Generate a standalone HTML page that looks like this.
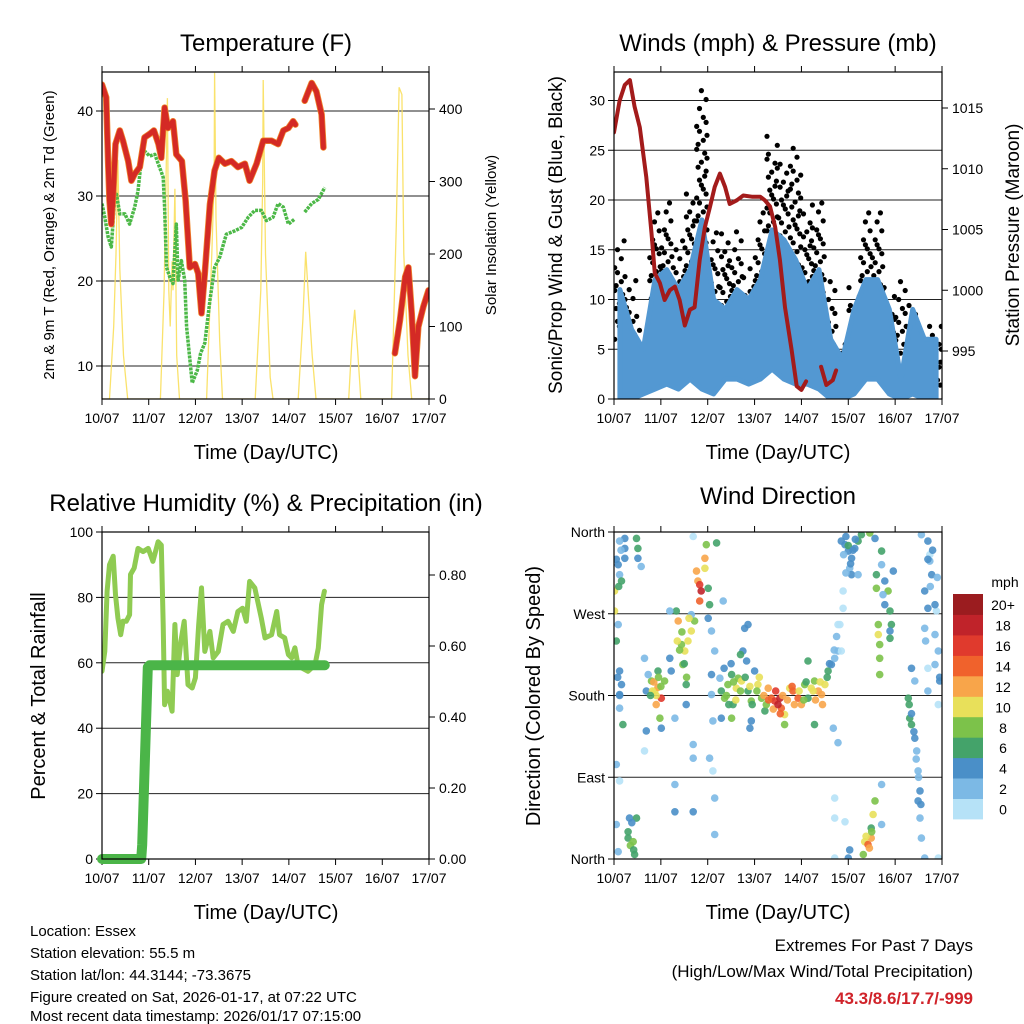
<!DOCTYPE html>
<html><head><meta charset="utf-8"><title>Station Meteogram</title>
<style>
html,body{margin:0;padding:0;background:#fff;}
svg{display:block;font-family:"Liberation Sans",Arial,sans-serif;}
</style></head>
<body>
<svg id="chart" width="1024" height="1024" viewBox="0 0 1024 1024" xmlns="http://www.w3.org/2000/svg">
<rect x="0" y="0" width="1024" height="1024" fill="#fff"/>
<defs>
<clipPath id="c1"><rect x="102" y="72" width="327" height="327"/></clipPath>
<clipPath id="c2"><rect x="614" y="72" width="328" height="327"/></clipPath>
<clipPath id="c3"><rect x="102" y="532" width="327" height="327"/></clipPath>
<clipPath id="c4"><rect x="614" y="532" width="328" height="327"/></clipPath>
</defs>
<text x="266" y="51" font-size="24" text-anchor="middle">Temperature (F)</text>
<text x="778" y="51" font-size="24" text-anchor="middle">Winds (mph) &amp; Pressure (mb)</text>
<text x="266" y="511" font-size="24" text-anchor="middle">Relative Humidity (%) &amp; Precipitation (in)</text>
<text x="778" y="504" font-size="24" text-anchor="middle">Wind Direction</text>
<text x="266" y="459" font-size="20" text-anchor="middle">Time (Day/UTC)</text>
<text x="778" y="459" font-size="20" text-anchor="middle">Time (Day/UTC)</text>
<text x="266" y="919" font-size="20" text-anchor="middle">Time (Day/UTC)</text>
<text x="778" y="919" font-size="20" text-anchor="middle">Time (Day/UTC)</text>
<text transform="translate(54,235) rotate(-90)" font-size="15" text-anchor="middle">2m &amp; 9m T (Red, Orange) &amp; 2m Td (Green)</text>
<text transform="translate(496,235) rotate(-90)" font-size="15" text-anchor="middle">Solar Insolation (Yellow)</text>
<text transform="translate(562,235) rotate(-90)" font-size="19" text-anchor="middle">Sonic/Prop Wind &amp; Gust (Blue, Black)</text>
<text transform="translate(1019,235) rotate(-90)" font-size="19" text-anchor="middle">Station Pressure (Maroon)</text>
<text transform="translate(45,696) rotate(-90)" font-size="20" text-anchor="middle">Percent &amp; Total Rainfall</text>
<text transform="translate(540,696) rotate(-90)" font-size="20" text-anchor="middle">Direction (Colored By Speed)</text>
<g font-size="15">
<text x="30" y="936">Location: Essex</text>
<text x="30" y="958">Station elevation: 55.5 m</text>
<text x="30" y="980">Station lat/lon: 44.3144; -73.3675</text>
<text x="30" y="1002">Figure created on Sat, 2026-01-17, at 07:22 UTC</text>
<text x="30" y="1024" dy="-3">Most recent data timestamp: 2026/01/17 07:15:00</text>
</g>
<text x="973" y="951" font-size="17" text-anchor="end">Extremes For Past 7 Days</text>
<text x="973" y="977" font-size="17" text-anchor="end">(High/Low/Max Wind/Total Precipitation)</text>
<text x="973" y="1004" font-size="17" font-weight="bold" fill="#d0232a" text-anchor="end">43.3/8.6/17.7/-999</text>
</svg>
<script>
// ---------- DATA ----------
const dayLabels = ["10/07","11/07","12/07","13/07","14/07","15/07","16/07","17/07"];
const tempTicks = [10,20,30,40];
const solarTicks = [0,100,200,300,400];
const windTicks = [0,5,10,15,20,25,30];
const presTicks = [995,1000,1005,1010,1015];
const rhTicks = [0,20,40,60,80,100];
const precipTicks = ["0.00","0.20","0.40","0.60","0.80"];
const dirLabels = ["North","East","South","West","North"];
const speedLabels = ["0","2","4","6","8","10","12","14","16","18","20+"];
const speedColors = ["#b6e2f7","#7cb9e5","#4a8fc8","#44a36a","#7cc24a","#e8e05a","#f8a54a","#f0622c","#e03a2d","#c0232a","#9b1c1f"];

const tempTime = [0,0.09,0.13,0.16,0.2,0.24,0.29,0.38,0.45,0.56,0.63,0.7,0.81,0.91,1.02,1.11,1.21,1.27,1.34,1.41,1.52,1.59,1.71,1.79,1.88,1.99,2.06,2.13,2.2,2.31,2.41,2.5,2.63,2.77,2.91,3.06,3.16,3.31,3.45,3.63,3.77,3.88,3.99,4.09,4.14,4.2,4.34,4.49,4.59,4.7,4.74,4.78,6.2,6.27,6.38,6.49,6.56,6.63,6.7,6.77,6.88,6.99];
const tempVal = [43.1,41.6,34.1,29.5,26.7,30.2,36.1,37.7,36.5,34.1,31.8,32.6,33.4,36.9,37.3,37.7,36.1,34.5,40.4,38,38.8,34.9,34.1,29.5,21.6,22,20.9,16.2,20.9,29,33,34.5,33.8,34.1,33.4,33.8,31.8,33.8,36.5,36.5,36.1,37.7,38,38.8,38.4,null,41.2,43.3,42.3,39.6,35.7,null,null,11.5,15.4,20.5,21.6,16.2,8.8,14.6,17,18.9];
const dewTime = [0,0.06,0.13,0.2,0.27,0.31,0.38,0.49,0.59,0.7,0.77,0.84,0.91,1.02,1.13,1.23,1.31,1.34,1.38,1.45,1.52,1.59,1.63,1.7,1.77,1.81,1.93,2.04,2.11,2.2,2.31,2.41,2.52,2.66,2.84,2.99,3.13,3.27,3.41,3.52,3.66,3.77,3.88,3.99,4.13,4.2,4.34,4.49,4.63,4.77];
const dewVal = [29.1,27.5,25.2,24,29.5,30.2,27.9,27.9,26.7,28.7,30.6,34.1,35.3,34.7,34.9,33.4,32.2,28.7,21.6,20.5,19.7,26.7,20.1,22.4,20.1,14.6,8,9.5,11.5,12.7,17.7,21.6,22.8,25.5,25.9,26.3,27.5,28.3,28.3,27.1,27.5,29.1,28.7,26.7,27.3,null,28.1,29.1,29.6,31];
const solarTime = [0,0.16,0.25,0.3,0.34,0.38,0.46,0.55,1.25,1.33,1.36,1.4,1.43,1.46,1.5,1.52,1.56,1.6,1.66,2.24,2.35,2.4,2.41,2.44,2.52,2.58,3.28,3.4,3.44,3.45,3.5,3.6,3.66,4.2,4.3,4.36,4.42,4.5,4.58,5.28,5.35,5.41,5.47,5.54,6.2,6.3,6.36,6.42,6.46,6.55,6.63,7];
const solarVal = [0,0,100,200,330,180,60,0,0,150,260,415,150,100,190,150,290,60,0,0,200,300,450,250,80,0,0,150,300,440,200,30,0,0,110,203,140,60,0,0,80,123,70,0,0,240,430,420,200,60,0,0];

const presTime = [0,0.12,0.23,0.34,0.44,0.55,0.69,0.8,0.87,0.98,1.08,1.19,1.3,1.4,1.51,1.62,1.72,1.83,1.94,2.05,2.15,2.26,2.37,2.47,2.62,2.76,2.94,3.12,3.22,3.33,3.44,3.54,3.65,3.79,3.9,4.0,4.1,4.31,4.42,4.53,4.67,4.74];
const presVal = [1013,1015.6,1016.9,1017.3,1015.1,1013.4,1009.3,1004.7,1001.4,1000.6,999.2,1000,1000.3,999.2,997.1,998.4,998.6,1002.5,1005.2,1006.9,1008.5,1009.6,1008.5,1007.1,1007.4,1007.8,1007.7,1007.7,1007.4,1006.9,1005.2,1002.5,998.6,995.1,992.1,991.8,992.5,null,993.7,992.2,992.6,993.4];
const windLow = [0,0,0.5,1,1.5,1,2,1,0.5,2,2,1.5,2,3,2,1.5,1.5,1,0,0,0.5,2,2,0.5,0,0.5,0,0];
const windHigh = [11,7,5,12,13,11,13,18,10,9,11,10,12,17,16,14,11,13,6,4,9,12,12,9,2,9,6,6];
const gustMax = [16,12,8,19,20,16,21,31,17,17,17,14,19,27,24,26,20,20,12,6,12,19,19,12,12,10,8,8];

const dirTime = [0.01,0.01,0.09,0.12,0.16,0.23,0.23,0.23,0.12,0.09,0.05,0.12,0.16,0.12,0.12,0.19,0.05,0.12,0.05,0.33,0.30,0.41,0.44,0.48,0.09,
0.48,0.51,0.51,0.58,
0.87,0.94,1.01,0.80,1.08,0.94,0.73,0.65,0.69,0.98,1.01,0.69,0.65,1.19,1.22,
1.37,1.33,1.44,1.47,1.51,1.58,1.65,1.72,1.54,1.54,1.30,1.30,1.30,1.69,1.69,1.69,1.19,1.65,
1.79,1.83,1.86,1.83,1.76,1.94,1.97,1.94,2.01,2.04,2.01,1.69,2.08,2.15,2.08,2.08,2.11,2.04,2.11,2.15,2.15,2.19,2.33,
2.26,2.29,2.36,2.43,2.51,2.54,2.61,2.65,2.72,2.75,2.83,2.86,2.93,2.93,3.00,3.07,3.15,3.22,3.29,3.36,3.43,3.54,3.57,3.64,3.64,3.75,3.82,3.93,4.00,4.07,4.14,4.14,4.21,4.28,4.36,4.43,4.50,4.57,4.64,4.71,4.78,4.78,2.86,2.79,4.28,2.90,2.29,2.51,
4.93,5.00,5.07,5.14,5.21,5.28,5.03,5.07,5.21,4.89,4.89,4.82,4.85,4.71,4.71,4.93,4.71,5.03,5.00,4.68,4.78,5.46,
5.35,5.42,5.49,5.53,5.57,5.32,5.49,5.71,5.71,
5.60,5.60,5.64,5.67,5.64,5.67,5.67,5.78,5.85,5.89,5.92,5.96,5.74,5.78,5.89,5.89,5.57,5.71,5.71,
6.28,6.31,6.35,6.42,6.46,6.49,6.53,6.49,6.53,6.56,6.63,6.35,6.42,6.56,6.70,6.74,6.78,6.63,6.70,6.63,6.85,6.92,6.85,6.95,6.70,6.88,6.92,6.92,6.74,
2.40,2.45,2.55,2.60,2.70,2.80,2.90,2.95,3.05,3.10,3.20,3.25,3.30,3.40,3.45,3.50,3.55,3.60,3.70,3.80,3.85,3.95,4.05,4.10,4.25,4.30,4.40,4.45,4.55,4.60,4.70,4.75,2.35,2.50,2.70,
0.82,0.85,0.90,0.95,0.90,1.00,0.78,
1.35,1.40,1.45,1.50,1.55,1.60,
4.85,4.90,4.95,5.00,5.05,5.10,5.15,4.95,
0.30,0.35,0.38,0.42,5.38,5.45,5.50,
6.70,6.75,6.80,6.85,6.90,6.95,6.65,6.70,6.30,6.35,6.40,6.45,6.50,6.55,
0.05,0.10,0.15,0.08,0.12];
const dirDeg = [295,273,324,313,306,353,342,331,350,258,240,207,192,181,166,148,104,86,38,45,23,19,5,45,8,
353,342,331,322,
185,189,177,196,196,207,203,221,185,155,144,141,119,221,207,
262,273,236,214,229,240,251,262,192,170,155,82,52,126,111,52,273,269,
306,302,295,284,317,331,346,320,298,280,265,355,251,229,203,181,152,111,97,67,27,348,284,
199,185,177,192,203,170,188,199,196,229,218,185,174,152,207,192,177,163,188,177,174,177,166,159,148,188,185,177,170,192,177,218,188,196,185,181,192,207,214,221,229,258,258,254,148,144,155,155,
346,339,331,342,350,357,320,313,313,295,276,258,229,67,45,41,1,10,1,144,128,359,
19,16,23,49,64,5,34,82,38,
313,298,247,236,258,221,203,306,295,273,258,317,291,280,251,243,353,339,324,
177,155,148,133,119,97,75,64,45,23,1,210,196,357,350,328,313,295,276,254,247,229,214,196,185,273,170,1,335,
180,170,195,175,185,200,190,170,185,200,180,170,175,165,185,170,160,180,175,190,170,185,175,195,185,175,195,170,200,215,230,245,210,215,225,
185,195,180,200,170,190,180,
240,230,250,215,200,265,
350,335,355,345,325,340,352,315,
30,15,40,10,25,12,30,
330,300,340,280,310,200,240,210,170,160,140,110,90,60,
330,300,340,200,180];
const dirSpd = [10,10,4,2,6,4,4,4,2,2,6,4,4,4,2,6,2,0,2,4,6,8,6,6,2,
6,6,4,2,
10,12,16,8,8,6,2,2,4,8,4,4,0,4,4,
12,6,8,8,10,10,10,8,6,4,2,2,4,2,2,4,2,2,
12,16,18,14,12,12,8,10,6,6,4,0,2,2,4,2,2,2,0,2,2,6,2,
2,6,8,8,6,6,10,8,10,4,4,6,8,4,4,10,8,6,12,14,16,18,14,10,8,10,14,14,12,8,6,6,10,8,12,12,10,6,4,2,2,0,4,4,6,4,4,8,
4,4,4,4,6,6,2,4,2,0,0,0,0,0,0,0,0,4,4,2,2,8,
10,14,12,10,8,8,6,2,2,
6,8,10,8,8,8,8,4,8,6,6,4,2,4,4,6,4,6,2,
6,6,6,4,2,2,4,4,2,2,2,4,2,2,4,2,4,4,4,2,2,2,2,4,2,0,0,0,0,
8,6,8,10,8,6,10,6,8,10,12,8,14,12,16,18,14,12,12,14,12,10,8,6,10,12,10,12,6,4,2,2,4,4,6,
10,12,10,8,12,8,6,
10,8,8,6,8,10,
4,2,4,6,4,4,4,2,
6,8,4,6,10,12,8,
4,2,4,4,2,4,2,0,6,4,4,2,2,4,
4,6,2,4,4];

// ---------- HELPERS ----------
const NS = "http://www.w3.org/2000/svg";
const svg = document.getElementById("chart");
function mk(tag, attrs, name, parent) {
  const e = document.createElementNS(NS, tag);
  for (const k in attrs) e.setAttribute(k, attrs[k]);
  
  
  (parent || svg).appendChild(e);
  return e;
}
function txt(x, y, s, size, anchor, name, parent) {
  const e = mk("text", {x: x, y: y, "font-size": size, "text-anchor": anchor}, name, parent);
  e.textContent = s;
  return e;
}
const P = {
  p1: {x0: 102, x1: 429, y0: 72, y1: 399},
  p2: {x0: 614, x1: 942, y0: 72, y1: 399},
  p3: {x0: 102, x1: 429, y0: 532, y1: 859},
  p4: {x0: 614, x1: 942, y0: 532, y1: 859}
};
function xs(p, t) { return p.x0 + t / 7 * (p.x1 - p.x0); }
const yTemp = v => 366 - (v - 10) * 8.5;
const ySolar = v => 399 - v * 0.725;
const yWind = v => 399 - v * 9.95;
const yPres = v => 351 - (v - 995) * 12.15;
const yRH = v => 859 - v * 3.27;
const yPrecip = v => 859 - v * 355;
const yDir = v => 859 - v / 360 * 327;

function paths(p, ts, vs, fy) {
  const segs = []; let cur = [];
  for (let i = 0; i < ts.length; i++) {
    if (vs[i] === null) { if (cur.length) segs.push(cur); cur = []; continue; }
    cur.push(xs(p, ts[i]).toFixed(1) + "," + fy(vs[i]).toFixed(1));
  }
  if (cur.length) segs.push(cur);
  return segs.map(s => "M" + s.join("L")).join(" ");
}

function frame(p, name) {
  const g = mk("g", {}, name + "-axes");
  for (let d = 0; d < dayLabels.length; d++) {
    const x = xs(p, d);
    mk("line", {x1: x, x2: x, y1: p.y1, y2: p.y1 + 6, stroke: "#000", "stroke-width": 1}, "x-tick", g);
    mk("line", {x1: x, x2: x, y1: p.y0, y2: p.y0 - 6, stroke: "#000", "stroke-width": 1}, "x-tick-top", g);
    txt(x, p.y1 + 24, dayLabels[d], 14, "middle", "x-tick-label", g);
  }
  return g;
}
function border(p, name) {
  mk("rect", {x: p.x0, y: p.y0, width: p.x1 - p.x0, height: p.y1 - p.y0, fill: "none", stroke: "#000", "stroke-width": 1.2}, name + "-frame");
}
function hgrid(p, ys, g) {
  ys.forEach(y => mk("line", {x1: p.x0, x2: p.x1, y1: y, y2: y, stroke: "#222", "stroke-width": 1}, "grid-line", g));
}

// ---------- PANEL 1: TEMPERATURE ----------
(function () {
  const p = P.p1; const g = frame(p, "temperature");
  hgrid(p, tempTicks.map(yTemp), g);
  tempTicks.forEach(v => {
    mk("line", {x1: p.x0 - 6, x2: p.x0, y1: yTemp(v), y2: yTemp(v), stroke: "#000"}, "y-tick", g);
    txt(p.x0 - 9, yTemp(v) + 5, String(v), 14, "end", "temp-tick-label", g);
  });
  solarTicks.forEach(v => {
    mk("line", {x1: p.x1, x2: p.x1 + 6, y1: ySolar(v), y2: ySolar(v), stroke: "#000"}, "y2-tick", g);
    txt(p.x1 + 10, ySolar(v) + 5, String(v), 14, "start", "solar-tick-label", g);
  });
  const c = mk("g", {"clip-path": "url(#c1)"}, "temperature-plot-area");
  mk("path", {d: paths(p, solarTime, solarVal, ySolar), fill: "none", stroke: "#f9df5c", "stroke-width": 1.3, opacity: 0.9}, "solar-line", c);
  mk("path", {d: paths(p, dewTime, dewVal, yTemp), fill: "none", stroke: "#4cb847", "stroke-width": 3.5, "stroke-dasharray": "3 1", "stroke-linejoin": "round"}, "dewpoint-line", c);
  mk("path", {d: paths(p, tempTime, tempVal, yTemp), fill: "none", stroke: "#f0862c", "stroke-width": 6.5, "stroke-linejoin": "round", "stroke-linecap": "round"}, "temp-9m-line", c);
  mk("path", {d: paths(p, tempTime, tempVal, yTemp), fill: "none", stroke: "#d42a25", "stroke-width": 5, "stroke-linejoin": "round", "stroke-linecap": "round"}, "temp-2m-line", c);
  border(p, "temperature");
})();

// ---------- PANEL 2: WINDS ----------
(function () {
  const p = P.p2; const g = frame(p, "winds");
  hgrid(p, windTicks.slice(1).map(yWind), g);
  windTicks.forEach(v => {
    mk("line", {x1: p.x0 - 6, x2: p.x0, y1: yWind(v), y2: yWind(v), stroke: "#000"}, "y-tick", g);
    txt(p.x0 - 9, yWind(v) + 5, String(v), 14, "end", "wind-tick-label", g);
  });
  presTicks.forEach(v => {
    mk("line", {x1: p.x1, x2: p.x1 + 6, y1: yPres(v), y2: yPres(v), stroke: "#000"}, "y2-tick", g);
    txt(p.x1 + 10, yPres(v) + 5, String(v), 14, "start", "pressure-tick-label", g);
  });
  const c = mk("g", {"clip-path": "url(#c2)"}, "winds-plot-area");
  const bw = 0.25;
  const pattern = [-0.11, 0.03, -0.05, 0.09, -0.01, 0.06, -0.08, 0.11];
  for (let i = 0; i < gustMax.length; i++) {
    const tc = i * bw + bw / 2;
    let row = 0;
    for (let v = Math.max(windLow[i] + 1, windHigh[i] - 5); v <= gustMax[i]; v += 0.9) {
      const o1 = pattern[row % pattern.length];
      const o2 = pattern[(row + 3) % pattern.length];
      mk("circle", {cx: xs(p, tc + o1).toFixed(1), cy: yWind(v).toFixed(1), r: 2.6, fill: "#000"}, "gust-point", c);
      if (v < gustMax[i] - 3) {
        mk("circle", {cx: xs(p, tc + o2).toFixed(1), cy: yWind(v + 0.4).toFixed(1), r: 2.6, fill: "#000"}, "gust-point", c);
      }
      row++;
    }
  }
  const top = [], bot = [];
  for (let i = 0; i < windHigh.length; i++) {
    const tc = i * bw + bw / 2;
    top.push(xs(p, tc).toFixed(1) + "," + yWind(windHigh[i]).toFixed(1));
    bot.unshift(xs(p, tc).toFixed(1) + "," + yWind(windLow[i]).toFixed(1));
  }
  mk("polygon", {points: top.concat(bot).join(" "), fill: "#5398d2", stroke: "#5398d2", "stroke-width": 5, "stroke-linejoin": "round"}, "wind-speed-band", c);
  mk("path", {d: paths(p, presTime, presVal, yPres), fill: "none", stroke: "#a31b1b", "stroke-width": 4, "stroke-linejoin": "round", "stroke-linecap": "round"}, "pressure-line", c);
  border(p, "winds");
})();

// ---------- PANEL 3: HUMIDITY ----------
const rhTime = [0,0.06,0.11,0.16,0.24,0.29,0.34,0.4,0.45,0.52,0.59,0.61,0.69,0.77,0.88,0.99,1.09,1.2,1.27,1.31,1.34,1.4,1.5,1.56,1.61,1.69,1.76,1.84,1.93,2.0,2.07,2.13,2.2,2.31,2.38,2.49,2.59,2.7,2.81,2.91,3.01,3.09,3.16,3.27,3.41,3.49,3.63,3.74,3.8,3.91,3.99,4.06,4.13,4.2,4.41,4.56,4.63,4.7,4.76];
const rhVal = [57.4,63.5,81.9,90,92.6,80.8,73.7,68.6,72.7,72.7,74.7,87,89,95,94,95,91,97,96,71.7,47.2,51.3,45.2,71.7,56.4,66.6,72.7,53.3,52.3,55.4,71.7,82.9,63.5,69.6,61.5,63.5,71.7,72.7,69.6,75.7,76.7,72.7,84.9,82.9,73.7,67.6,68.6,75.7,68.6,67.6,62.5,61.5,64.6,59,57.4,59.4,64.5,77.8,81.9];
const precipTime = [0,0.84,0.86,0.9,0.94,0.98,1.02,4.77];
const precipVal = [0,0,0.04,0.2,0.37,0.54,0.546,0.546];
(function () {
  const p = P.p3; const g = frame(p, "humidity");
  hgrid(p, rhTicks.slice(1, 5).map(yRH), g);
  rhTicks.forEach(v => {
    mk("line", {x1: p.x0 - 6, x2: p.x0, y1: yRH(v), y2: yRH(v), stroke: "#000"}, "y-tick", g);
    txt(p.x0 - 9, yRH(v) + 5, String(v), 14, "end", "rh-tick-label", g);
  });
  precipTicks.forEach(s => {
    const y = yPrecip(parseFloat(s));
    mk("line", {x1: p.x1, x2: p.x1 + 6, y1: y, y2: y, stroke: "#000"}, "y2-tick", g);
    txt(p.x1 + 10, y + 5, s, 14, "start", "precip-tick-label", g);
  });
  const c = mk("g", {"clip-path": "url(#c3)"}, "humidity-plot-area");
  mk("path", {d: paths(p, rhTime, rhVal, yRH), fill: "none", stroke: "#8fcb52", "stroke-width": 5, "stroke-linejoin": "round", "stroke-linecap": "round"}, "rh-line", c);
  const c2 = mk("g", {}, "precip-layer");
  mk("path", {d: paths(p, precipTime, precipVal, yPrecip), fill: "none", stroke: "#4bb548", "stroke-width": 10, "stroke-linejoin": "round", "stroke-linecap": "round"}, "precip-line", c2);
  border(p, "humidity");
})();

// ---------- PANEL 4: WIND DIRECTION ----------
(function () {
  const p = P.p4; const g = frame(p, "direction");
  hgrid(p, [90, 180, 270].map(yDir), g);
  dirLabels.forEach((s, i) => {
    const y = yDir(i * 90);
    mk("line", {x1: p.x0 - 6, x2: p.x0, y1: y, y2: y, stroke: "#000"}, "y-tick", g);
    txt(p.x0 - 9, y + 5, s, 14, "end", "direction-tick-label", g);
  });
  const c = mk("g", {"clip-path": "url(#c4)"}, "direction-plot-area");
  for (let i = 0; i < dirTime.length; i++) {
    const idx = Math.min(10, Math.floor(dirSpd[i] / 2));
    mk("circle", {cx: xs(p, dirTime[i]).toFixed(1), cy: yDir(dirDeg[i]).toFixed(1), r: 3.8, fill: speedColors[idx], opacity: 0.9}, "direction-point", c);
  }
  border(p, "direction");
  const cb = mk("g", {}, "speed-colorbar");
  txt(1005, 587, "mph", 14, "middle", "colorbar-title", cb);
  for (let k = 0; k < speedColors.length; k++) {
    const y = 819 - (k + 1) * 20.45;
    mk("rect", {x: 953, y: y.toFixed(1), width: 30, height: 20.9, fill: speedColors[k]}, "colorbar-swatch", cb);
    txt(1003, y + 16, speedLabels[k], 14, "middle", "colorbar-label", cb);
  }
})();
</script>
</body></html>
